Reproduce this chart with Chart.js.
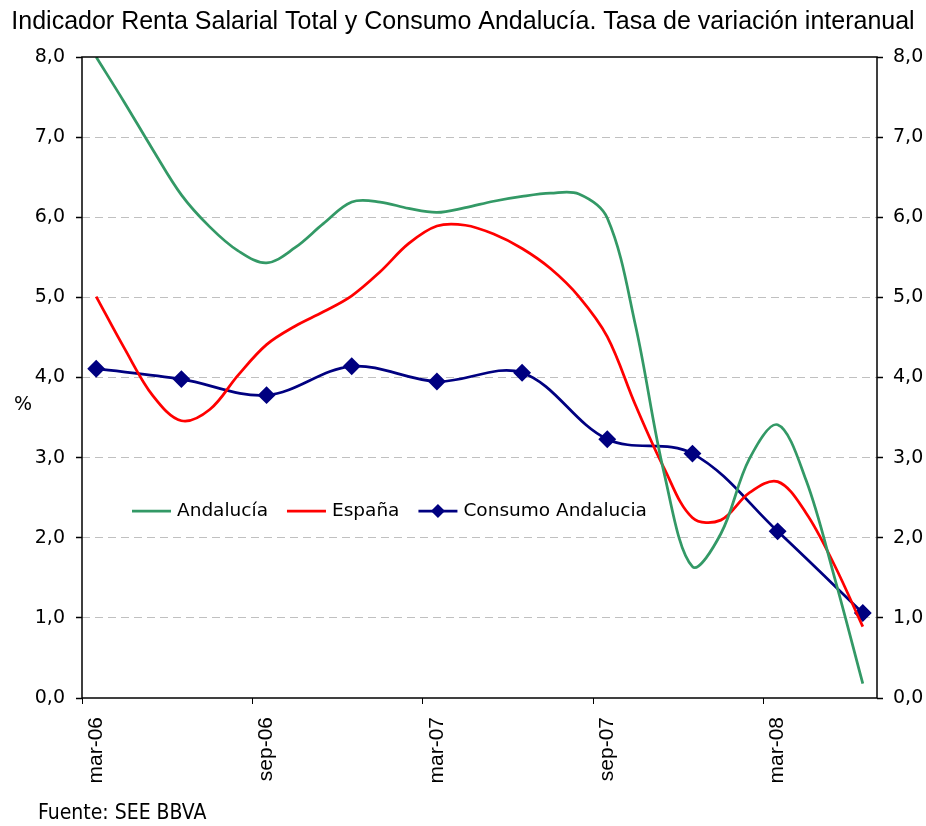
<!DOCTYPE html>
<html>
<head>
<meta charset="utf-8">
<script src="https://cdn.jsdelivr.net/npm/chart.js@4"></script>
<style>
  body { margin: 0; background: #fff; }
</style>
</head>
<body>
<canvas id="grafica" width="926" height="826"></canvas>
<script>
const meses = ['mar-06', 'abr-06', 'may-06', 'jun-06', 'jul-06', 'ago-06', 'sep-06', 'oct-06', 'nov-06', 'dic-06',
    'ene-07', 'feb-07', 'mar-07', 'abr-07', 'may-07', 'jun-07', 'jul-07', 'ago-07', 'sep-07', 'oct-07', 'nov-07', 'dic-07',
    'ene-08', 'feb-08', 'mar-08', 'abr-08', 'may-08', 'jun-08'];
const andalucia = [8.0, 7.43, 6.84, 6.28, 5.88, 5.58, 5.43, 5.62, 5.92, 6.19, 6.19, 6.11, 6.06, 6.12, 6.20, 6.26, 6.30, 6.29,
    5.99, 4.64, 2.81, 1.64, 2.05, 2.98, 3.41, 2.72, 1.51, 0.18];
const espana = [5.01, 4.36, 3.77, 3.46, 3.60, 4.03, 4.41, 4.64, 4.82, 5.02, 5.32, 5.67, 5.89, 5.90, 5.79, 5.61, 5.36, 5.01,
    4.51, 3.65, 2.87, 2.25, 2.22, 2.56, 2.70, 2.31, 1.66, 0.89];
const consumo = [4.11, null, null, 3.98, null, null, 3.78, null, null, 4.14, null, null, 3.95, null, null, 4.06, null, null,
    3.23, null, null, 3.05, null, null, 2.08, null, null, 1.06];
const ticksY = [0, 1, 2, 3, 4, 5, 6, 7, 8];

const fmt = v => v.toFixed(1).replace('.', ',');

// marco, leyenda, "%" y fuente
const extras = {
    id: 'extras',
    afterDraw(chart) {
        const ctx = chart.ctx;
        const a = chart.chartArea;
        ctx.save();
        ctx.strokeStyle = '#000';
        ctx.lineWidth = 1.5;
        ctx.strokeRect(a.left, a.top, a.right - a.left, a.bottom - a.top);

        ctx.fillStyle = '#000';
        ctx.font = '19px "DejaVu Sans"';
        ctx.textBaseline = 'middle';
        ctx.textAlign = 'left';
        ctx.fillText('%', 14, 405);

        ctx.font = '18.5px "DejaVu Sans"';
        let x = 132;
        const y = 511;
        chart.data.datasets.forEach(ds => {
            ctx.strokeStyle = ds.borderColor;
            ctx.lineWidth = 2.75;
            ctx.beginPath();
            ctx.moveTo(x, y);
            ctx.lineTo(x + 39, y);
            ctx.stroke();
            if (ds.pointRadius > 0) {
                ctx.fillStyle = ds.borderColor;
                ctx.beginPath();
                ctx.moveTo(x + 19.5, y - 7);
                ctx.lineTo(x + 26.5, y);
                ctx.lineTo(x + 19.5, y + 7);
                ctx.lineTo(x + 12.5, y);
                ctx.closePath();
                ctx.fill();
            }
            ctx.fillStyle = '#000';
            ctx.fillText(ds.label, x + 45, y);
            x += 45 + ctx.measureText(ds.label).width + 19;
        });

        ctx.font = '21px "DejaVu Sans Condensed", "DejaVu Sans"';
        ctx.fillText('Fuente: SEE BBVA', 38, 814);
        ctx.restore();
    }
};

const grafica = new Chart(document.getElementById('grafica').getContext('2d'), {
    type: 'line',
    data: {
        labels: meses,
        datasets: [{
            label: 'Andalucía',
            data: andalucia,
            borderColor: '#339966',
            borderWidth: 2.75,
            pointRadius: 0,
            tension: 0.35
        }, {
            label: 'España',
            data: espana,
            borderColor: '#ff0000',
            borderWidth: 2.75,
            pointRadius: 0,
            tension: 0.35
        }, {
            label: 'Consumo Andalucia',
            data: consumo,
            borderColor: '#000080',
            backgroundColor: '#000080',
            borderWidth: 2.75,
            pointStyle: 'rectRot',
            pointRadius: 7,
            spanGaps: true,
            tension: 0.35
        }]
    },
    options: {
        responsive: false,
        animation: false,
        layout: { padding: 0 },
        plugins: {
            legend: { display: false },
            tooltip: { enabled: false },
            title: {
                display: true,
                text: 'Indicador Renta Salarial Total y Consumo Andalucía. Tasa de variación interanual',
                color: '#000',
                font: { family: '"Liberation Sans", Arial', size: 25, weight: 'normal' },
                padding: { top: 7, bottom: 20 }
            }
        },
        scales: {
            x: {
                type: 'category',
                offset: true,
                grid: {
                    offset: true,
                    drawOnChartArea: false,
                    tickLength: 6,
                    color: c => c.index % 6 === 0 ? '#000' : 'rgba(0,0,0,0)'
                },
                border: { display: false },
                ticks: {
                    autoSkip: false,
                    minRotation: 90,
                    maxRotation: 90,
                    padding: 13,
                    color: '#000',
                    font: { family: '"Liberation Sans", Arial', size: 21 },
                    callback: (v, i) => i % 6 === 0 ? meses[i] : ''
                },
                afterFit: s => { s.height = 128; }
            },
            y: {
                position: 'left',
                min: 0,
                max: 8,
                afterBuildTicks: s => { s.ticks = ticksY.map(v => ({ value: v })); },
                grid: {
                    color: c => (c.tick && (c.tick.value === 0 || c.tick.value === 8)) ? 'rgba(0,0,0,0)' : '#c0c0c0',
                    lineWidth: 1,
                    tickLength: 6,
                    tickColor: '#000',
                    tickWidth: 1.5
                },
                border: { display: false, dash: [8, 5] },
                ticks: {
                    padding: 11,
                    color: '#000',
                    font: { family: '"DejaVu Sans"', size: 19 },
                    callback: v => fmt(v)
                },
                afterFit: s => { s.width = 82; }
            },
            y2: {
                position: 'right',
                min: 0,
                max: 8,
                afterBuildTicks: s => { s.ticks = ticksY.map(v => ({ value: v })); },
                grid: {
                    drawOnChartArea: false,
                    tickLength: 6,
                    color: '#000',
                    tickWidth: 1.5
                },
                border: { display: false },
                ticks: {
                    padding: 10,
                    color: '#000',
                    font: { family: '"DejaVu Sans"', size: 19 },
                    callback: v => fmt(v)
                },
                afterFit: s => { s.width = 49; }
            }
        }
    },
    plugins: [extras]
});
</script>
</body>
</html>
